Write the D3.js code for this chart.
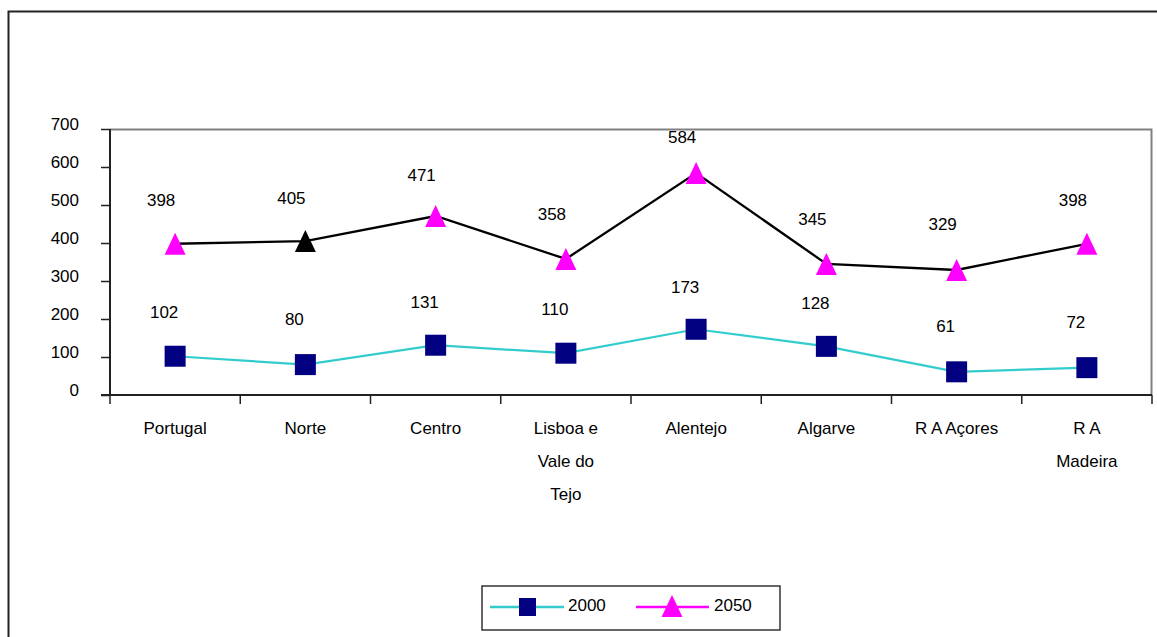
<!DOCTYPE html>
<html><head><meta charset="utf-8">
<script src="https://cdn.jsdelivr.net/npm/d3@7"></script>
<style>
body{margin:0;background:#fff;}
svg text{font-family:"Liberation Sans",Arial,sans-serif;font-size:17px;fill:#000;}
</style></head>
<body><svg id="c" width="1157" height="637"></svg>
<script>
const categories = [["Portugal"],["Norte"],["Centro"],["Lisboa e","Vale do","Tejo"],["Alentejo"],["Algarve"],["R A Açores"],["R A","Madeira"]];
const series2000 = [102, 80, 131, 110, 173, 128, 61, 72];
const series2050 = [398, 405, 471, 358, 584, 345, 329, 398];
const yTicks = [0,100,200,300,400,500,600,700];
const seriesNames = ["2000","2050"];

const svg = d3.select("#c");
const L = 110, R = 1152, T = 129, B = 395;
const x = d3.scaleBand().domain(d3.range(categories.length)).range([L, R]);
const y = d3.scaleLinear().domain([0, 700]).range([B, T]);

// outer frame
svg.append("path").attr("d", `M8.5,637 V11.5 H1157`).attr("fill","none").attr("stroke","#222").attr("stroke-width",2);

// plot border (top/right gray)
svg.append("path").attr("d", `M${L},${T}.5 H${R-0.5} V${B}`).attr("fill","none").attr("stroke","#808080").attr("stroke-width",2);

// y axis
const ya = svg.append("g").attr("transform",`translate(${L},0)`).call(d3.axisLeft(y).tickValues(yTicks).tickSize(9).tickPadding(22).tickFormat(d3.format("d")));
ya.attr("font-size",null).attr("font-family",null);
ya.select(".domain").attr("stroke","#222").attr("stroke-width",2).attr("d",`M0,${T}V${B}`);
ya.selectAll(".tick line").attr("stroke","#222").attr("stroke-width",1.5);
ya.selectAll("text").attr("dy","0.02em");

// x axis
const xa = svg.append("g").attr("transform",`translate(0,${B})`);
xa.append("line").attr("x1",L-9).attr("x2",R).attr("stroke","#222").attr("stroke-width",2);
const bounds = d3.range(categories.length+1).map(i => i < categories.length ? x(i) : R);
xa.selectAll("line.t").data(bounds).join("line").attr("class","t")
  .attr("x1",d=>d).attr("x2",d=>d).attr("y1",0).attr("y2",9).attr("stroke","#222").attr("stroke-width",1.5);
xa.selectAll("text.c").data(categories).join("text").attr("class","c")
  .attr("text-anchor","middle")
  .each(function(lines,i){
    const t = d3.select(this);
    lines.forEach((ln,j)=>{
      t.append("tspan").attr("x", x(i)+x.bandwidth()/2).attr("y", 39 + j*33).text(ln);
    });
  });

const cx = i => x(i) + x.bandwidth()/2;

// lines
const line = d3.line().x((d,i)=>cx(i)).y(d=>y(d));
svg.append("path").datum(series2000).attr("d",line).attr("fill","none").attr("stroke","#33CCCC").attr("stroke-width",2.2);
svg.append("path").datum(series2050).attr("d",line).attr("fill","none").attr("stroke","#000").attr("stroke-width",2.3);

// markers 2000
svg.selectAll("rect.m").data(series2000).join("rect").attr("class","m")
  .attr("x",(d,i)=>cx(i)-10.5).attr("y",d=>y(d)-10.5).attr("width",21).attr("height",21).attr("fill","#000080");
// markers 2050
const tri = (cxv, cyv) => `M${cxv},${cyv-11}L${cxv+10.5},${cyv+11}L${cxv-10.5},${cyv+11}Z`;
svg.selectAll("path.t").data(series2050).join("path").attr("class","t")
  .attr("d",(d,i)=>tri(cx(i), y(d))).attr("fill",(d,i)=> i===1 ? "#000" : "#FF00FF");

// data labels (placed above markers, slightly compressed toward top as in source)
svg.selectAll("text.l0").data(series2000).join("text").attr("class","l0")
  .attr("x",(d,i)=>cx(i)-11).attr("y",d=>0.9*y(d)-9+6).attr("text-anchor","middle").text(d=>d);
svg.selectAll("text.l1").data(series2050).join("text").attr("class","l1")
  .attr("x",(d,i)=>cx(i)-14).attr("y",d=>0.9*y(d)-19+6).attr("text-anchor","middle").text(d=>d);

// legend
const lg = svg.append("g");
lg.append("rect").attr("x",482).attr("y",586).attr("width",298).attr("height",44).attr("fill","#fff").attr("stroke","#333").attr("stroke-width",1.5);
lg.append("line").attr("x1",490).attr("x2",564).attr("y1",607).attr("y2",607).attr("stroke","#33CCCC").attr("stroke-width",2.5);
lg.append("rect").attr("x",519).attr("y",598).attr("width",17).attr("height",18).attr("fill","#000080");
lg.append("text").attr("x",568).attr("y",611).text(seriesNames[0]);
lg.append("line").attr("x1",636).attr("x2",709).attr("y1",607).attr("y2",607).attr("stroke","#FF00FF").attr("stroke-width",2.5);
lg.append("path").attr("d",tri(672,606)).attr("fill","#FF00FF");
lg.append("text").attr("x",714).attr("y",611).text(seriesNames[1]);
</script></body></html>
